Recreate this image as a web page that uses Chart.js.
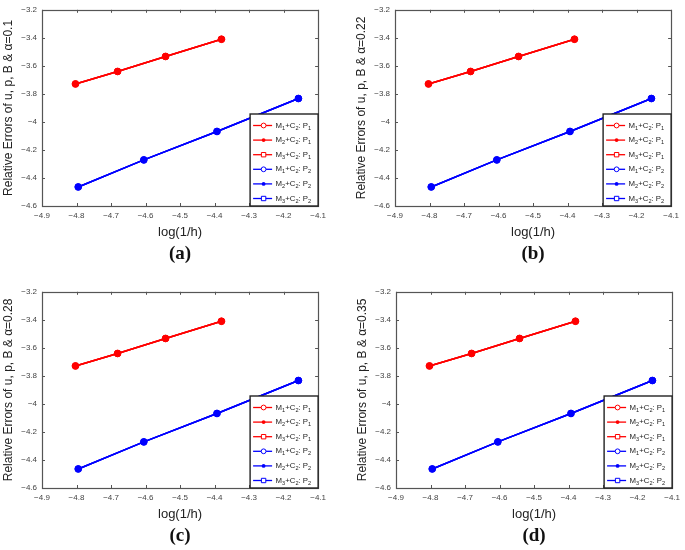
<!DOCTYPE html>
<html>
<head>
<meta charset="utf-8">
<script src="https://cdn.jsdelivr.net/npm/chart.js@4.4.1/dist/chart.umd.min.js"></script>
<style>
  body { margin: 0; background: #fff; }
  #wrap { position: relative; width: 685px; height: 550px; }
  #wrap canvas { position: absolute; }
</style>
</head>
<body>
<div id="wrap">
  <canvas id="panel_a" width="331" height="268" style="left:0px;top:0px"></canvas>
  <canvas id="panel_b" width="331" height="268" style="left:353px;top:0px"></canvas>
  <canvas id="panel_c" width="331" height="268" style="left:0px;top:282px"></canvas>
  <canvas id="panel_d" width="331" height="268" style="left:354px;top:282px"></canvas>
</div>
<script>
// values (same in all four panels)
const logInvH_P1 = [-4.803, -4.681, -4.542, -4.380];
const err_P1 = [-3.729, -3.640, -3.533, -3.410];
const logInvH_P2 = [-4.795, -4.605, -4.393, -4.157];
const err_P2 = [-4.464, -4.271, -4.068, -3.833];

const methods = ['M1', 'M2', 'M3'];
const markers = ['openCircle', 'dot', 'openSquare'];
const panelIds = ['panel_a', 'panel_b', 'panel_c', 'panel_d'];
const panelLabels = ['(a)', '(b)', '(c)', '(d)'];
const alphas = ['0.1', '0.22', '0.28', '0.35'];

const xMin = -4.9, xMax = -4.1, xStep = 0.1;
const yMin = -4.6, yMax = -3.2, yStep = 0.2;

const AXIS_GRAY = '#555';
const SANS = '"Liberation Sans", Arial, sans-serif';

function pts(xs, ys) {
    return xs.map((x, i) => ({x: x, y: ys[i]}));
}

function makeDatasets() {
    const out = [];
    [['P1', 'rgb(255,0,0)', logInvH_P1, err_P1], ['P2', 'rgb(0,0,255)', logInvH_P2, err_P2]].forEach(p => {
        methods.forEach((m, k) => {
            const mk = markers[k];
            out.push({
                label: m + '+C2: ' + p[0],
                data: pts(p[2], p[3]),
                showLine: true,
                borderColor: p[1],
                borderWidth: 1.5,
                pointStyle: mk === 'openSquare' ? 'rect' : 'circle',
                pointRadius: mk === 'dot' ? 3.4 : 3,
                pointBorderWidth: 1,
                pointBorderColor: p[1],
                pointBackgroundColor: mk === 'dot' ? p[1] : 'rgba(0,0,0,0)',
                pointHoverRadius: 3.4,
                marker: mk
            });
        });
    });
    return out;
}

// text like "M1+C2: P1" -> digits right after a letter become subscripts
function drawSubText(ctx, text, x, y, size) {
    let cx = x;
    for (let i = 0; i < text.length; i++) {
        const ch = text[i];
        const sub = /[0-9]/.test(ch) && i > 0 && /[A-Za-z]/.test(text[i - 1]);
        ctx.font = (sub ? size * 0.72 : size) + 'px ' + SANS;
        ctx.fillText(ch, cx, sub ? y + size * 0.32 : y);
        cx += ctx.measureText(ch).width;
    }
}

const matlabLook = {
    id: 'matlabLook',
    afterDatasetsDraw(chart, args, opts) {
        const ctx = chart.ctx;
        const ca = chart.chartArea;
        const xs = chart.scales.x, ys = chart.scales.y;
        ctx.save();
        // inward tick marks on all four sides
        ctx.strokeStyle = AXIS_GRAY;
        ctx.lineWidth = 1;
        ctx.beginPath();
        xs.ticks.forEach(t => {
            const px = Math.round(xs.getPixelForValue(t.value)) + 0.5;
            ctx.moveTo(px, ca.bottom); ctx.lineTo(px, ca.bottom - 3);
            ctx.moveTo(px, ca.top); ctx.lineTo(px, ca.top + 3);
        });
        ys.ticks.forEach(t => {
            const py = Math.round(ys.getPixelForValue(t.value)) + 0.5;
            ctx.moveTo(ca.left, py); ctx.lineTo(ca.left + 3, py);
            ctx.moveTo(ca.right, py); ctx.lineTo(ca.right - 3, py);
        });
        ctx.stroke();
        ctx.lineWidth = 1.2;
        ctx.strokeRect(Math.round(ca.left) + 0.5, Math.round(ca.top) + 0.5,
            Math.round(ca.right - ca.left), Math.round(ca.bottom - ca.top));

        // legend box, bottom right inside the axes
        const lw = 68, lh = 92;
        const x0 = ca.right - lw, y0 = ca.bottom - lh;
        ctx.fillStyle = '#fff';
        ctx.fillRect(x0, y0, lw, lh);
        ctx.strokeStyle = '#222';
        ctx.lineWidth = 1.4;
        ctx.strokeRect(x0, y0, lw, lh);
        chart.data.datasets.forEach((ds, i) => {
            const yy = y0 + 11.5 + i * 14.6;
            ctx.strokeStyle = ds.borderColor;
            ctx.lineWidth = 1.3;
            ctx.beginPath();
            ctx.moveTo(x0 + 3, yy); ctx.lineTo(x0 + 22, yy);
            ctx.stroke();
            const mx = x0 + 13.5;
            ctx.lineWidth = 1;
            ctx.beginPath();
            if (ds.marker === 'openCircle') {
                ctx.fillStyle = '#fff';
                ctx.arc(mx, yy, 2.4, 0, Math.PI * 2);
                ctx.fill(); ctx.stroke();
            } else if (ds.marker === 'dot') {
                ctx.fillStyle = ds.borderColor;
                ctx.arc(mx, yy, 1.9, 0, Math.PI * 2);
                ctx.fill();
            } else {
                ctx.fillStyle = '#fff';
                ctx.rect(mx - 2.2, yy - 2.2, 4.4, 4.4);
                ctx.fill(); ctx.stroke();
            }
            ctx.fillStyle = '#222';
            ctx.textBaseline = 'middle';
            ctx.textAlign = 'left';
            drawSubText(ctx, ds.label, x0 + 25.5, yy, 7.8);
        });

        // panel letter under the axes
        ctx.fillStyle = '#111';
        ctx.font = 'bold 19px "Liberation Serif", "Times New Roman", serif';
        ctx.textAlign = 'center';
        ctx.textBaseline = 'middle';
        ctx.fillText(opts.label, (ca.left + ca.right) / 2, ca.bottom + 48);
        ctx.restore();
    }
};

function tickLabel(v) {
    return String(+(+v).toFixed(1)).replace('-', '\u2212');
}

panelIds.forEach((id, i) => {
    new Chart(document.getElementById(id), {
        type: 'scatter',
        data: {datasets: makeDatasets()},
        plugins: [matlabLook],
        options: {
            responsive: false,
            animation: false,
            layout: {padding: {top: 5, right: 7, bottom: 22, left: 0}},
            plugins: {
                legend: {display: false},
                tooltip: {enabled: false},
                matlabLook: {label: panelLabels[i]}
            },
            scales: {
                x: {
                    type: 'linear',
                    min: xMin, max: xMax,
                    afterFit: s => { s.height = 40; },
                    grid: {display: false, drawTicks: false},
                    border: {display: false},
                    ticks: {stepSize: xStep, padding: 5, color: '#444', font: {family: SANS, size: 8},
                        maxRotation: 0, callback: tickLabel},
                    title: {display: true, text: 'log(1/h)', color: '#222',
                        font: {family: SANS, size: 13}, padding: {top: 0, bottom: 6}}
                },
                y: {
                    type: 'linear',
                    min: yMin, max: yMax,
                    afterFit: s => { s.width = 42; },
                    grid: {display: false, drawTicks: false},
                    border: {display: false},
                    ticks: {stepSize: yStep, padding: 5, color: '#444', font: {family: SANS, size: 8},
                        callback: tickLabel},
                    title: {display: true, text: 'Relative Errors of u, p, B & α=' + alphas[i], color: '#222',
                        font: {family: SANS, size: 12}, padding: {top: 1, bottom: 0}}
                }
            }
        }
    });
});
</script>
</body>
</html>
